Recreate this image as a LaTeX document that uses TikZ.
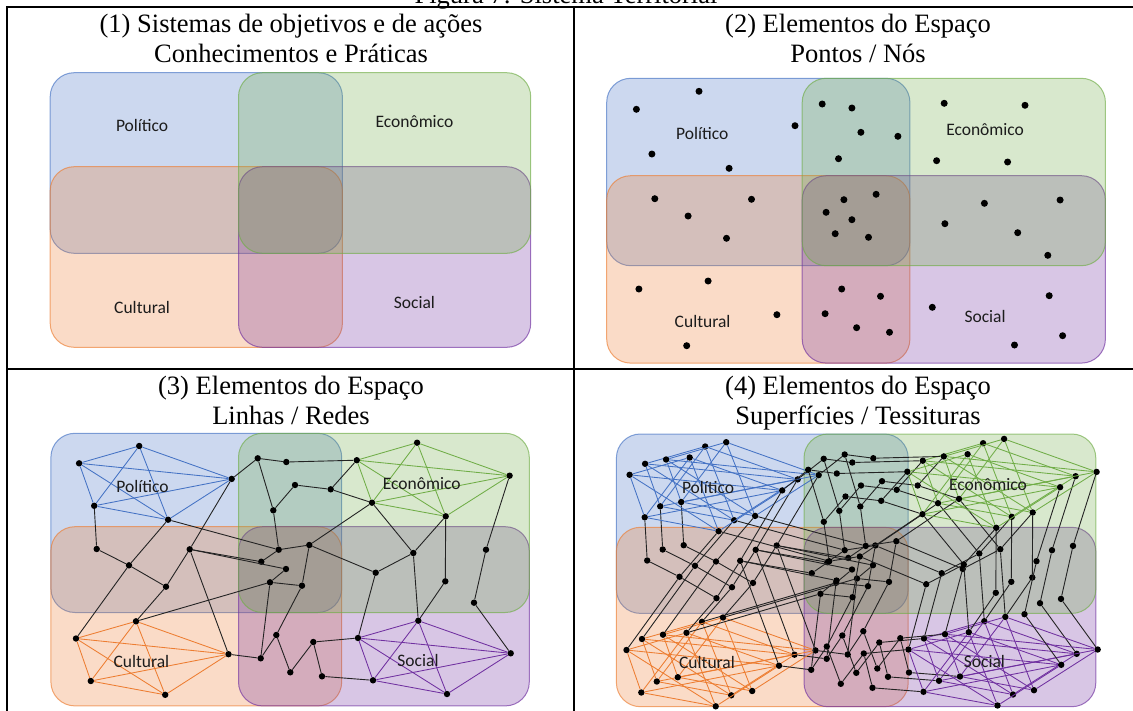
\documentclass[tikz,border=0pt]{standalone}
\usepackage{fontspec}
\setmainfont{Liberation Serif}
\newfontfamily\calibrifont{Carlito}
\definecolor{blueC}{HTML}{4472C4}
\definecolor{greenC}{HTML}{70AD47}
\definecolor{orangeC}{HTML}{ED7D31}
\definecolor{purpleC}{HTML}{7030A0}
\definecolor{labtext}{RGB}{28,28,28}
\definecolor{edgegray}{RGB}{35,35,35}
\tikzset{
 box/.style={rounded corners=24pt, fill opacity=0.27, draw opacity=0.65, line width=1pt},
 dot/.style={circle, fill=black, draw=none, inner sep=0pt, minimum size=6.4pt},
 bigdot/.style={dot, minimum size=7pt},
 blk/.style={draw=edgegray, line width=0.9pt},
 cedge/.style={draw=#1, line width=0.85pt},
 lab/.style={font=\calibrifont\fontsize{17.5}{20}\selectfont, text=labtext, inner sep=0pt},
 ttl/.style={font=\fontsize{26.5}{30}\selectfont, anchor=base, inner sep=0pt},
 rule/.style={line width=2pt}
}
\newcommand\fourboxes[6]{%
 \draw[box,draw=blueC,fill=blueC] (#1,#4) rectangle ++(#3,#6);
 \draw[box,draw=orangeC,fill=orangeC] (#1,#5) rectangle ++(#3,#6);
 \draw[box,draw=purpleC,fill=purpleC] (#2,#5) rectangle ++(#3,#6);
 \draw[box,draw=greenC,fill=greenC] (#2,#4) rectangle ++(#3,#6);}
\newcommand\network{%
 \foreach \n/\x/\y in {P1/139.2/446,P2/79.1/463.3,P3/231.7/478.9,P4/94.2/505.8,P5/168.1/519.7,
 E1/417.1/442.7,E2/356.8/460.2,E3/509.6/475.7,E4/372/502.7,E5/445.7/516.3,
 C1/136/621.3,C2/76/638.5,C3/228.5/654.2,C4/90.8/681,C5/165.2/694.8,
 S1/418.3/620.7,S2/358/638,S3/510.7/653.3,S4/373/680.3,S5/447/694,
 A/257.7/458.3,B/286.3/462,F/295/485,G/330.7/489.3,H/273.3/510.3,I/278.7/549.7,J/309.3/545,
 K/261.3/561.7,L/286/569,M/270/582.3,N/302/585.7,O/375.7/572.7,Q/413.3/553,R/445.3/581.3,
 T/486/549.7,U/474/602.7,V/276.3/635,W/260.7/658.3,X/290.3/672.3,Y/313.3/642,Z/322/676.3,
 a1/96.7/549,a2/129/565.3,a3/166/586.7,a4/189.7/549.3}
 \node[dot] (\n) at (\x,\y) {};
 \foreach \i/\j in {1/2,1/3,1/4,1/5,2/3,2/4,2/5,3/4,3/5,4/5}{
 \draw[cedge=blueC] (P\i) -- (P\j);
 \draw[cedge=greenC] (E\i) -- (E\j);
 \draw[cedge=orangeC] (C\i) -- (C\j);
 \draw[cedge=purpleC] (S\i) -- (S\j);}
 \foreach \a/\b in {P3/A,A/B,B/E2,A/H,H/F,F/G,G/E2,G/E4,H/I,P5/I,I/J,I/K,J/E4,J/O,J/N,
 O/Q,Q/E4,Q/E5,Q/S1,E5/R,R/S1,O/S2,E3/T,T/U,U/S3,K/a4,L/a4,L/M,M/N,M/W,M/C1,N/V,V/W,V/X,
 X/Y,Y/S2,Y/Z,Z/S4,W/C3,P4/a1,a1/a2,a2/a3,a3/C1,a3/a4,a4/P3,a4/C3,a2/P5,a2/C2}
 \draw[blk] (\a) -- (\b);
}
\begin{document}
\begin{tikzpicture}[x=1pt,y=-1pt]
\useasboundingbox (0,0) rectangle (1133,710);
\clip (0,0) rectangle (1133,710);
\fill[white] (0,0) rectangle (1133,710);
% caption (cut off at the top, as in the reference)
\node[ttl] (caption) at (566,3) {Figura 7: Sistema Territorial};
% table rules
\draw[rule] (7,7) -- (1140,7);
\draw[rule] (7,369) -- (1140,369);
\draw[rule] (7,6) -- (7,712);
\draw[rule] (574,6) -- (574,712);
% titles
\node[ttl] (t1a) at (291,32) {(1) Sistemas de objetivos e de ações};
\node[ttl] (t1b) at (291,62) {Conhecimentos e Práticas};
\node[ttl] (t2a) at (858,32) {(2) Elementos do Espaço};
\node[ttl] (t2b) at (858,62) {Pontos / Nós};
\node[ttl] (t3a) at (291,394) {(3) Elementos do Espaço};
\node[ttl] (t3b) at (291,424) {Linhas / Redes};
\node[ttl] (t4a) at (858,394) {(4) Elementos do Espaço};
\node[ttl] (t4b) at (858,424) {Superfícies / Tessituras};
% panel 1
\fourboxes{50.2}{238.5}{292.2}{72.7}{166.7}{180.6}
\node[lab] (p1pol) at (142.1,125.7) {Político};
\node[lab] (p1eco) at (414.4,122) {Econômico};
\node[lab] (p1cul) at (142.1,307.3) {Cultural};
\node[lab] (p1soc) at (414.4,302.3) {Social};
% panel 2
\fourboxes{606.7}{802.2}{303.2}{78.3}{175.7}{187.4}
\foreach \x/\y [count=\i] in {699.0/91.3,636.4/109.3,795.0/125.7,651.9/154.0,729.1/168.3,
 822.2/104.0,851.9/108.0,860.9/132.3,897.9/136.3,838.5/158.7,944.2/103.3,1025.0/105.3,
 936.6/160.7,1007.6/162.0,654.8/198.7,751.5/199.3,688.1/216.0,726.5/238.3,843.9/199.7,
 876.1/194.3,826.1/212.3,851.9/219.7,835.2/233.7,868.5/237.3,984.4/203.3,1060.1/200.0,
 944.9/223.7,1017.7/232.7,1047.8/255.3,708.1/281.0,638.9/289.0,776.9/314.7,686.7/345.7,
 841.7/289.0,880.5/296.3,825.1/313.7,856.6/327.7,889.5/332.3,932.3/307.3,1049.2/295.7,
 1062.6/335.7,1014.5/345.0}
 \node[bigdot] (d\i) at (\x,\y) {};
\node[lab] (p2pol) at (702.3,133.3) {Político};
\node[lab] (p2eco) at (985.1,129.3) {Econômico};
\node[lab] (p2cul) at (702.6,321.7) {Cultural};
\node[lab] (p2soc) at (985.1,316) {Social};
% panel 3
\fourboxes{50.9}{238.5}{290.8}{433.3}{526.7}{179.2}
\begin{scope}[name prefix=n3-]
\network
\end{scope}
\node[lab] (p3pol) at (142.5,486.7) {Político};
\node[lab] (p3eco) at (421.7,484) {Econômico};
\node[lab] (p3cul) at (141.4,661.7) {Cultural};
\node[lab] (p3soc) at (418,660) {Social};
% panel 4
\fourboxes{616.4}{804}{291.8}{434}{527.3}{179.4}
\begin{scope}[shift={(566,0.5)},name prefix=n4a-]
\network
\end{scope}
\begin{scope}[shift={(587,-3.8)},name prefix=n4b-]
\network
\end{scope}
\begin{scope}[shift={(550.5,11.5)},name prefix=n4c-]
\network
\end{scope}
\node[lab] (p4pol) at (708.1,487.3) {Político};
\node[lab] (p4eco) at (988,484.7) {Econômico};
\node[lab] (p4cul) at (707,662.7) {Cultural};
\node[lab] (p4soc) at (984.4,661.7) {Social};
\end{tikzpicture}
\end{document}
